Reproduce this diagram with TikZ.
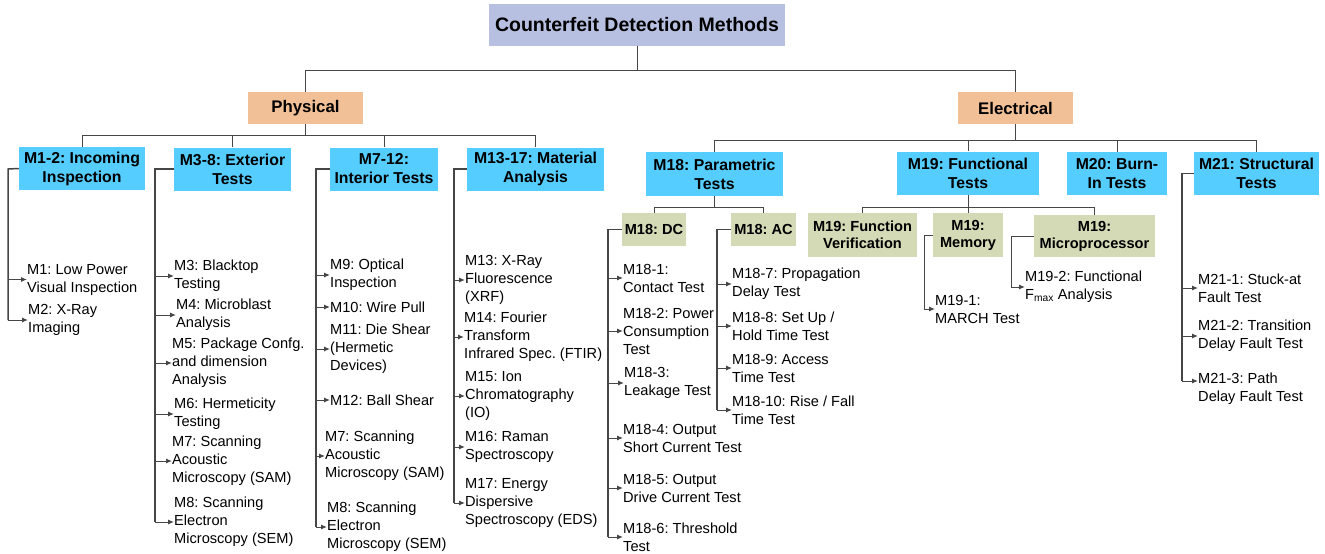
\documentclass[tikz,border=0pt]{standalone}
\usepackage{fontspec}
\setmainfont{Liberation Sans}
\frenchspacing
\usetikzlibrary{arrows.meta}

\definecolor{lavender}{RGB}{183,192,225}
\definecolor{peach}{RGB}{242,192,150}
\definecolor{skyblue}{RGB}{85,205,255}
\definecolor{paleolive}{RGB}{212,217,182}
\definecolor{linegray}{RGB}{70,70,70}

\begin{document}
\begin{tikzpicture}[x=1pt,y=-1pt,
  tree/.style={draw=linegray,line width=1pt},
  bus/.style={draw=linegray,line width=1.5pt},
  arr/.style={draw=linegray,line width=1pt,-{Latex[length=6pt,width=5pt]}},
  titlebox/.style={fill=lavender,inner sep=0pt,font={\bfseries\fontsize{19.5}{22}\selectfont}},
  catbox/.style={fill=peach,inner sep=0pt,minimum width=115pt,minimum height=32pt,font={\bfseries\fontsize{16.8}{20}\selectfont}},
  groupbox/.style={fill=skyblue,inner sep=0pt,align=center,minimum height=43pt,font={\bfseries\fontsize{15.8}{19}\selectfont}},
  subbox/.style={fill=paleolive,inner sep=0pt,align=center,font={\bfseries\fontsize{14.6}{17}\selectfont}},
  leaf/.style={anchor=west,inner sep=0pt,align=left,font={\fontsize{14.6}{18}\selectfont}}]

\useasboundingbox (0,0) rectangle (1325,554);

%%%%%% top levels
\node[titlebox,minimum width=296pt,minimum height=42pt] (cdm) at (637,25) {Counterfeit Detection Methods};
\node[catbox] (phys) at (305.5,108) {Physical};
\node[catbox] (elec) at (1015.5,108) {Electrical};

\draw[tree] (cdm.south) -- ++(0,24) coordinate (cdmbus);
\draw[tree] (cdmbus) -| (phys.north);
\draw[tree] (cdmbus) -| (elec.north);

%%%%%% physical groups
\node[groupbox,minimum width=126pt] (g12) at (82,168.5) {M1-2: Incoming\\Inspection};
\node[groupbox,minimum width=117pt] (g38) at (232.5,169) {M3-8: Exterior\\Tests};
\node[groupbox,minimum width=108pt] (g712) at (384,169) {M7-12:\\Interior Tests};
\node[groupbox,minimum width=137pt] (g1317) at (535.5,169) {M13-17: Material\\Analysis};

\draw[tree] (phys.south) -- ++(0,11) coordinate (physbus);
\draw[tree] (physbus) -| (g12.north);
\draw[tree] (physbus) -| (g38.north);
\draw[tree] (physbus) -| (g712.north);
\draw[tree] (physbus) -| (g1317.north);

%%%%%% electrical groups
\node[groupbox,minimum width=137pt,minimum height=44pt] (g18) at (714.5,174) {M18: Parametric\\Tests};
\node[groupbox,minimum width=142pt] (g19) at (968,173) {M19: Functional\\Tests};
\node[groupbox,minimum width=100pt] (g20) at (1117,173.5) {M20: Burn-\\In Tests};
\node[groupbox,minimum width=125pt] (g21) at (1256.5,173.5) {M21: Structural\\Tests};

\draw[tree] (elec.south) -- ++(0,16) coordinate (elecbus);
\draw[tree] (elecbus) -| (g18.north);
\draw[tree] (elecbus) -| (g19.north);
\draw[tree] (elecbus) -| (g20.north);
\draw[tree] (elecbus) -| (g21.north);

%sub groups
\node[subbox,minimum width=64pt,minimum height=33pt] (dc) at (654,229.5) {M18: DC};
\node[subbox,minimum width=65pt,minimum height=33pt] (ac) at (763.5,229.5) {M18: AC};
\node[subbox,minimum width=109pt,minimum height=44pt] (fver) at (862.5,235) {M19: Function\\Verification};
\node[subbox,minimum width=70pt,minimum height=44pt] (mem) at (968,235) {M19:\\Memory};
\node[subbox,minimum width=121pt,minimum height=42pt] (mproc) at (1094.5,236) {M19:\\Microprocessor};

\draw[tree] (g18.south) -- ++(0,11) coordinate (g18bus);
\draw[tree] (g18bus) -| (dc.north);
\draw[tree] (g18bus) -| (ac.north);
\draw[tree] (g19.south) -- ++(0,13) coordinate (g19bus);
\draw[tree] (g19bus) -| (fver.north);
\draw[tree] (g19bus) -| (mem.north);
\draw[tree] (g19bus) -| (mproc.north);

%%%%%% M1-2
\node[leaf] (m1) at (27,279.5) {M1: Low Power\\Visual Inspection};
\node[leaf] (m2) at (28,320) {M2: X-Ray\\Imaging};
\coordinate (b12) at (8,169);
\draw[bus] (g12.west) -- (b12) -- (b12 |- m2.west);
\draw[arr] (b12 |- m1.west) -- (m1.west);
\draw[arr] (b12 |- m2.west) -- (m2.west);

%%%%%% M3-8
\node[leaf] (m3) at (174,276) {M3: Blacktop\\Testing};
\node[leaf] (m4) at (176,315) {M4: Microblast\\Analysis};
\node[leaf] (m5) at (172,363) {M5: Package Confg.\\and dimension\\Analysis};
\node[leaf] (m6) at (174,414) {M6: Hermeticity\\Testing};
\node[leaf] (m7) at (172,461) {M7: Scanning\\Acoustic\\Microscopy (SAM)};
\node[leaf] (m8) at (174,522) {M8: Scanning\\Electron\\Microscopy (SEM)};
\coordinate (b38) at (155,169);
\draw[bus] (g38.west) -- (b38) -- (b38 |- m8.west);
\draw[arr] (b38 |- m3.west) -- (m3.west);
\draw[arr] (b38 |- m4.west) -- (m4.west);
\draw[arr] (b38 |- m5.west) -- (m5.west);
\draw[arr] (b38 |- m6.west) -- (m6.west);
\draw[arr] (b38 |- m7.west) -- (m7.west);
\draw[arr] (b38 |- m8.west) -- (m8.west);

%%%%%% M7-12
\node[leaf] (m9) at (330,275) {M9: Optical\\Inspection};
\node[leaf] (m10) at (330,307) {M10: Wire Pull};
\node[leaf] (m11) at (330,349) {M11: Die Shear\\(Hermetic\\Devices)};
\node[leaf] (m12) at (330,400) {M12: Ball Shear};
\node[leaf] (m7b) at (325,456) {M7: Scanning\\Acoustic\\Microscopy (SAM)};
\node[leaf] (m8b) at (327,527) {M8: Scanning\\Electron\\Microscopy (SEM)};
\coordinate (b712) at (316,169);
\draw[bus] (g712.west) -- (b712) -- (b712 |- m8b.west);
\draw[arr] (b712 |- m9.west) -- (m9.west);
\draw[arr] (b712 |- m10.west) -- (m10.west);
\draw[arr] (b712 |- m11.west) -- (m11.west);
\draw[arr] (b712 |- m12.west) -- (m12.west);
\draw[arr] (b712 |- m7b.west) -- (m7b.west);
\draw[arr] (b712 |- m8b.west) -- (m8b.west);

%%%%%% M13-17
\node[leaf] (m13) at (465,280) {M13: X-Ray\\Fluorescence\\(XRF)};
\node[leaf] (m14) at (464,337) {M14: Fourier\\Transform\\Infrared Spec. (FTIR)};
\node[leaf] (m15) at (465,396) {M15: Ion\\Chromatography\\(IO)};
\node[leaf] (m16) at (465,447) {M16: Raman\\Spectroscopy};
\node[leaf] (m17) at (465,503) {M17: Energy\\Dispersive\\Spectroscopy (EDS)};
\coordinate (b1317) at (454,169);
\draw[bus] (g1317.west) -- (b1317) -- (b1317 |- m17.west);
\draw[arr] (b1317 |- m13.west) -- (m13.west);
\draw[arr] (b1317 |- m14.west) -- (m14.west);
\draw[arr] (b1317 |- m15.west) -- (m15.west);
\draw[arr] (b1317 |- m16.west) -- (m16.west);
\draw[arr] (b1317 |- m17.west) -- (m17.west);

%%%%%% M18 DC
\node[leaf] (m181) at (623,278) {M18-1:\\Contact Test};
\node[leaf] (m182) at (623,331) {M18-2: Power\\Consumption\\Test};
\node[leaf] (m183) at (624,383) {M18-3:\\Leakage Test};
\node[leaf] (m184) at (623,438) {M18-4: Output\\Short Current Test};
\node[leaf] (m185) at (623,488) {M18-5: Output\\Drive Current Test};
\node[leaf] (m186) at (623,537) {M18-6: Threshold\\Test};
\coordinate (bdc) at (608,229.5);
\draw[bus] (dc.west) -- (bdc) -- (bdc |- m186.west);
\draw[arr] (bdc |- m181.west) -- (m181.west);
\draw[arr] (bdc |- m182.west) -- (m182.west);
\draw[arr] (bdc |- m183.west) -- (m183.west);
\draw[arr] (bdc |- m184.west) -- (m184.west);
\draw[arr] (bdc |- m185.west) -- (m185.west);
\draw[arr] (bdc |- m186.west) -- (m186.west);

%%%%%% M18 AC
\node[leaf] (m187) at (732,284) {M18-7: Propagation\\Delay Test};
\node[leaf] (m188) at (732,326) {M18-8: Set Up /\\Hold Time Test};
\node[leaf] (m189) at (732,368) {M18-9: Access\\Time Test};
\node[leaf] (m1810) at (732,410) {M18-10: Rise / Fall\\Time Test};
\coordinate (bac) at (717,229.5);
\draw[bus] (ac.west) -- (bac) -- (bac |- m1810.west);
\draw[arr] (bac |- m187.west) -- (m187.west);
\draw[arr] (bac |- m188.west) -- (m188.west);
\draw[arr] (bac |- m189.west) -- (m189.west);
\draw[arr] (bac |- m1810.west) -- (m1810.west);

%%%%%% M19
\node[leaf] (m191) at (935,309) {M19-1:\\MARCH Test};
\node[leaf] (m192) at (1025,287) {M19-2: Functional\\F\textsubscript{max} Analysis};
\coordinate (bmem) at (924,235);
\draw[tree] (mem.west) -- (bmem) -- (bmem |- m191.west);
\draw[arr] (bmem |- m191.west) -- (m191.west);
\coordinate (bmp) at (1011,236);
\draw[tree] (mproc.west) -- (bmp) -- (bmp |- m192.west);
\draw[arr] (bmp |- m192.west) -- (m192.west);

%%%%%% M21
\node[leaf] (m211) at (1198,288) {M21-1: Stuck-at\\Fault Test};
\node[leaf] (m212) at (1198,336) {M21-2: Transition\\Delay Fault Test};
\node[leaf] (m213) at (1198,389) {M21-3: Path\\Delay Fault Test};
\coordinate (b21) at (1182,173.5);
\coordinate (m213in) at ([yshift=8pt]m213.west);
\draw[bus] (g21.west) -- (b21) -- (b21 |- m213in);
\draw[arr] (b21 |- m211.west) -- (m211.west);
\draw[arr] (b21 |- m212.west) -- (m212.west);
\draw[arr] (b21 |- m213in) -- (m213in);

\end{tikzpicture}
\end{document}
